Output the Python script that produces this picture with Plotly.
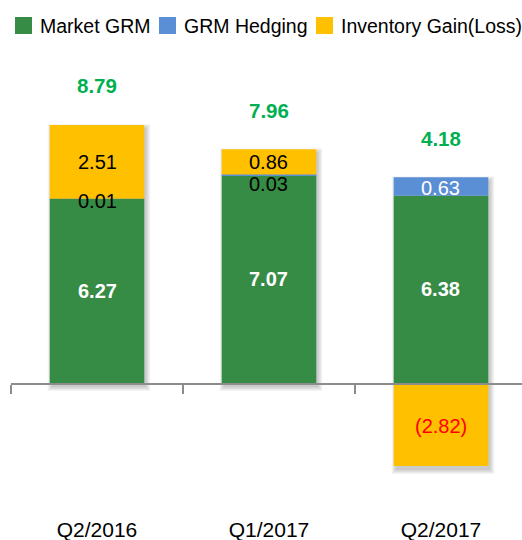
import plotly.graph_objects as go

categories = ["Q2/2016", "Q1/2017", "Q2/2017"]
market_grm = [6.27, 7.07, 6.38]
grm_hedging = [0.01, 0.03, 0.63]
inventory = [2.51, 0.86, -2.82]
totals = [8.79, 7.96, 4.18]
series_names = ["Market GRM", "GRM Hedging", "Inventory Gain(Loss)"]

GREEN = "#368B45"
BLUE = "#5A8FD5"
YELLOW = "#FFC000"
FONT = "Arial, Liberation Sans, sans-serif"
COLORS = [GREEN, BLUE, YELLOW]

W, H = 522, 540
ML, MR, MT, MB = 11, 0, 60, 40
PW, PH = W - ML - MR, H - MT - MB
X_RANGE = [-0.5, 2.471]
Y_RANGE = [-3.98, 11.0]
BAR_W = 0.55
UX = PW / (X_RANGE[1] - X_RANGE[0])   # px per category unit
UY = PH / (Y_RANGE[1] - Y_RANGE[0])   # px per value unit


def px_x(px):
    return (px - ML) / PW


def px_y(py):
    return (H - MB - py) / PH


fig = go.Figure()

# soft drop shadows behind each stacked bar
for i, c in enumerate(categories):
    top = market_grm[i] + grm_hedging[i] + max(inventory[i], 0)
    bot = min(inventory[i], 0)
    for k in range(5):
        grow = k * 1.0
        fig.add_shape(type="rect", xref="x", yref="y", layer="below",
                      x0=i - BAR_W / 2 + (2 - grow) / UX,
                      x1=i + BAR_W / 2 + (2 + grow) / UX,
                      y0=bot - (4 + grow) / UY,
                      y1=top - (3 - grow) / UY,
                      fillcolor="rgba(0,0,0,0.045)", line_width=0)

for name, vals, col in zip(series_names, [market_grm, grm_hedging, inventory], COLORS):
    fig.add_trace(go.Bar(x=categories, y=vals, name=name, marker_color=col,
                         marker_line_width=0, width=BAR_W, showlegend=False))


def fmt(v):
    return f"({abs(v):.2f})" if v < 0 else f"{v:.2f}"


hedge_shift = {"Q2/2016": -2.5, "Q1/2017": -9, "Q2/2017": -2}
hedge_color = {"Q2/2016": "black", "Q1/2017": "black", "Q2/2017": "white"}

for i, c in enumerate(categories):
    m, h, inv = market_grm[i], grm_hedging[i], inventory[i]
    fig.add_annotation(x=c, y=m / 2, text=f"<b>{fmt(m)}</b>", showarrow=False,
                       font=dict(family=FONT, size=20, color="white"))
    fig.add_annotation(x=c, y=m + h / 2, text=fmt(h), showarrow=False,
                       yshift=hedge_shift[c],
                       font=dict(family=FONT, size=20, color=hedge_color[c]))
    if inv >= 0:
        fig.add_annotation(x=c, y=m + h + inv / 2, text=fmt(inv), showarrow=False,
                           font=dict(family=FONT, size=20, color="black"))
        top = m + h + inv
    else:
        fig.add_annotation(x=c, y=inv / 2, text=fmt(inv), showarrow=False,
                           yshift=-1,
                           font=dict(family=FONT, size=20, color="#FF0000"))
        top = m + h
    fig.add_annotation(x=c, y=top, text=f"<b>{fmt(totals[i])}</b>", showarrow=False,
                       yshift=39, font=dict(family=FONT, size=20.5, color="#00B050"))

# manual legend (squares + labels)
legend_sq_left = [15, 159, 316]
for name, col, x0 in zip(series_names, COLORS, legend_sq_left):
    fig.add_shape(type="rect", xref="paper", yref="paper",
                  x0=px_x(x0), x1=px_x(x0 + 17), y0=px_y(34), y1=px_y(17),
                  fillcolor=col, line_width=0)
    fig.add_annotation(xref="paper", yref="paper", x=px_x(x0 + 23), y=px_y(25.5),
                       xanchor="left", yanchor="middle", text=name, showarrow=False,
                       font=dict(family=FONT, size=19.5, color="black"))

fig.update_layout(
    width=W, height=H,
    margin=dict(l=ML, r=MR, t=MT, b=MB, autoexpand=False),
    barmode="relative",
    showlegend=False,
    plot_bgcolor="white", paper_bgcolor="white",
    font=dict(family=FONT, size=19, color="black"),
    xaxis=dict(type="category", range=X_RANGE, anchor="free",
               position=(H - MB - 383.5) / PH,
               showline=True, linecolor="#8C8C8C", linewidth=2,
               ticks="outside", tickson="boundaries", ticklen=9,
               tickcolor="#8C8C8C", tickwidth=2, showgrid=False,
               ticklabelstandoff=127, layer="above traces",
               tickfont=dict(family=FONT, size=21, color="black")),
    yaxis=dict(range=Y_RANGE, visible=False, showgrid=False, zeroline=False),
)

fig.write_html("out.html")
